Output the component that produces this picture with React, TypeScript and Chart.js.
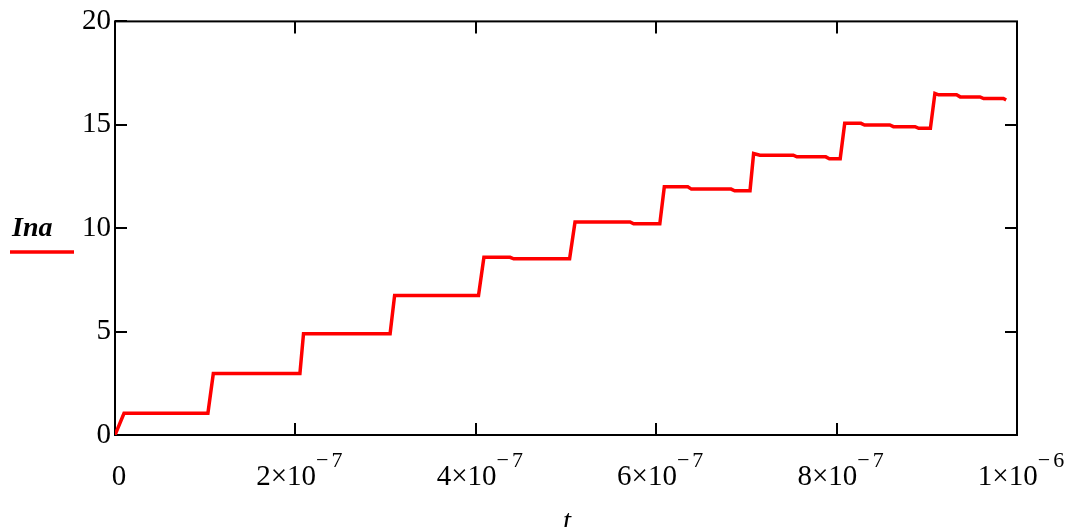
import React, { useEffect, useRef } from "react";
import { Chart, registerables } from "chart.js";

Chart.register(...registerables);

// ---- data ----
const timeValues = [
  0, 0.1e-7, 1.03e-7, 1.09e-7, 2.05e-7, 2.09e-7, 3.05e-7, 3.1e-7, 4.03e-7, 4.09e-7,
  4.38e-7, 4.42e-7, 5.04e-7, 5.1e-7, 5.71e-7, 5.75e-7, 6.04e-7, 6.09e-7, 6.35e-7, 6.39e-7,
  6.83e-7, 6.87e-7, 7.04e-7, 7.08e-7, 7.15e-7, 7.52e-7, 7.56e-7, 7.88e-7, 7.92e-7, 8.04e-7,
  8.09e-7, 8.27e-7, 8.31e-7, 8.59e-7, 8.63e-7, 8.87e-7, 8.91e-7, 9.04e-7, 9.09e-7, 9.13e-7,
  9.33e-7, 9.37e-7, 9.59e-7, 9.63e-7, 9.85e-7, 9.88e-7,
];
const inaValues = [
  0, 1.05, 1.05, 2.97, 2.97, 4.9, 4.9, 6.75, 6.75, 8.59,
  8.59, 8.52, 8.52, 10.3, 10.3, 10.21, 10.21, 12.0, 12.0, 11.89,
  11.89, 11.81, 11.81, 13.61, 13.53, 13.53, 13.45, 13.45, 13.36, 13.36,
  15.07, 15.07, 14.99, 14.99, 14.91, 14.91, 14.83, 14.83, 16.52, 16.45,
  16.45, 16.35, 16.35, 16.27, 16.27, 16.2,
];
const yTickValues = [0, 5, 10, 15, 20];
const xTickValues = [0, 2e-7, 4e-7, 6e-7, 8e-7, 1e-6];
const xTickMantissa = ["0", "2", "4", "6", "8", "1"];
const xTickExponent = ["", "7", "7", "7", "7", "6"];
const seriesName = "Ina";
const xTitle = "t";

const FONT = "'Liberation Serif', 'Times New Roman', serif";
const RED = "#ff0000";

const framePlugin = {
  id: "frame",
  beforeDatasetsDraw(chart: any) {
    const { ctx, chartArea } = chart;
    const { left, right, top, bottom } = chartArea;
    const xs = chart.scales.x;
    const ys = chart.scales.y;
    ctx.save();
    ctx.strokeStyle = "#000";
    ctx.lineWidth = 2;
    ctx.strokeRect(left, top, right - left, bottom - top);
    ctx.beginPath();
    const tl = 12;
    xTickValues.forEach((v) => {
      const px = Math.round(xs.getPixelForValue(v));
      if (v === xTickValues[0] || v === xTickValues[xTickValues.length - 1]) return;
      ctx.moveTo(px, bottom);
      ctx.lineTo(px, bottom - tl);
      ctx.moveTo(px, top);
      ctx.lineTo(px, top + tl);
    });
    yTickValues.forEach((v) => {
      const py = Math.round(ys.getPixelForValue(v));
      ctx.moveTo(left, py);
      ctx.lineTo(left + tl, py);
      if (v !== yTickValues[0] && v !== yTickValues[yTickValues.length - 1]) {
        ctx.moveTo(right, py);
        ctx.lineTo(right - tl, py);
      }
    });
    ctx.stroke();
    ctx.restore();
  },
  afterDraw(chart: any) {
    const { ctx, chartArea } = chart;
    const xs = chart.scales.x;
    ctx.save();
    ctx.fillStyle = "#000";
    ctx.textBaseline = "alphabetic";
    const mainFont = `29px ${FONT}`;
    const supFont = `22px ${FONT}`;
    const baseY = chartArea.bottom + 50;
    const supY = baseY - 18;
    xTickValues.forEach((v, i) => {
      const px = xs.getPixelForValue(v) + 4;
      const mant = xTickMantissa[i];
      const exp = xTickExponent[i];
      if (!exp) {
        ctx.font = mainFont;
        ctx.textAlign = "center";
        ctx.fillText(mant, px, baseY);
        return;
      }
      const mainText = mant + "×10";
      ctx.font = mainFont;
      const wMain = ctx.measureText(mainText).width;
      ctx.font = supFont;
      const wMinus = ctx.measureText("−").width;
      const wExp = ctx.measureText(exp).width;
      const gap = 3;
      const total = wMain + wMinus + gap + wExp;
      let x0 = px - total / 2;
      ctx.textAlign = "left";
      ctx.font = mainFont;
      ctx.fillText(mainText, x0, baseY);
      x0 += wMain;
      ctx.font = supFont;
      ctx.fillText("−", x0, supY);
      x0 += wMinus + gap;
      ctx.fillText(exp, x0, supY);
    });
    // x title
    ctx.font = `italic 29px ${FONT}`;
    ctx.textAlign = "center";
    ctx.fillText(xTitle, 567, 530);
    // y title with series line
    ctx.font = `bold italic 28px ${FONT}`;
    ctx.textAlign = "left";
    ctx.fillText(seriesName, 12, 236);
    ctx.strokeStyle = RED;
    ctx.lineWidth = 3.5;
    ctx.beginPath();
    ctx.moveTo(10, 252);
    ctx.lineTo(74, 252);
    ctx.stroke();
    ctx.restore();
  },
};

export default function App() {
  const ref = useRef<HTMLCanvasElement | null>(null);
  useEffect(() => {
    if (!ref.current) return;
    const data = timeValues.map((t, i) => ({ x: t, y: inaValues[i] }));
    const chart = new Chart(ref.current, {
      type: "line",
      data: {
        datasets: [
          {
            label: seriesName,
            data,
            borderColor: RED,
            backgroundColor: RED,
            borderWidth: 3.5,
            pointRadius: 0,
            tension: 0,
            fill: false,
          },
        ],
      },
      options: {
        animation: false,
        responsive: false,
        layout: { padding: { top: 20, right: 53, bottom: 0, left: 0 } },
        plugins: { legend: { display: false }, tooltip: { enabled: false } },
        scales: {
          x: {
            type: "linear",
            min: 0,
            max: 1e-6,
            grid: { display: false },
            border: { display: false },
            ticks: { display: false },
            afterFit: (s: any) => {
              s.height = 92;
            },
          },
          y: {
            type: "linear",
            min: 0,
            max: 20,
            grid: { display: false, drawTicks: false },
            border: { display: false },
            ticks: {
              stepSize: 5,
              padding: 4,
              color: "#000",
              font: { family: FONT, size: 29 },
            },
            afterFit: (s: any) => {
              s.width = 115;
            },
          },
        },
      },
      plugins: [framePlugin],
    });
    return () => chart.destroy();
  }, []);
  return (
    <div style={{ position: "fixed", left: 0, top: 0, width: 1070, height: 527, background: "#fff" }}>
      <canvas ref={ref} width={1070} height={527} style={{ display: "block" }} />
    </div>
  );
}
